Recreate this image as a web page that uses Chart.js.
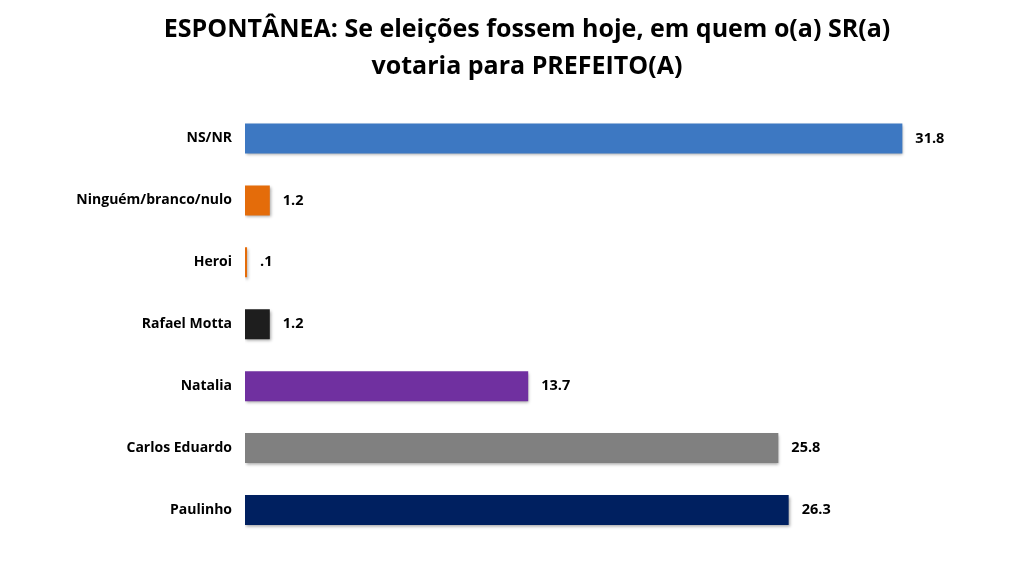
<!DOCTYPE html>
<html><head><meta charset="utf-8">
<script src="https://cdn.jsdelivr.net/npm/chart.js@4/dist/chart.umd.min.js"></script>
<style>html,body{margin:0;padding:0;background:#fff;}#wrap{width:1024px;height:562px;position:relative;}</style>
</head><body><div id="wrap"><canvas id="c"></canvas></div>
<script>
const categories = ["NS/NR","Ninguém/branco/nulo","Heroi","Rafael Motta","Natalia","Carlos Eduardo","Paulinho"];
const values = [31.8, 1.2, 0.1, 1.2, 13.7, 25.8, 26.3];
const barColors = ["#3D78C2","#E46C0A","#E46C0A","#1E1E1E","#7030A0","#808080","#002060"];
const titleLines = ["ESPONTÂNEA: Se eleições fossem hoje, em quem o(a) SR(a)","votaria para PREFEITO(A)"];

const fmt = v => String(v).replace(/^0\./, '.');

const valueLabels = {
  id: 'valueLabels',
  afterDatasetsDraw(chart) {
    const ctx = chart.ctx;
    const meta = chart.getDatasetMeta(0);
    ctx.save();
    ctx.font = 'bold 14.5px "Open Sans", sans-serif';
    ctx.fillStyle = '#000';
    ctx.textBaseline = 'middle';
    ctx.textAlign = 'left';
    meta.data.forEach((bar, i) => {
      ctx.fillText(fmt(values[i]), bar.x + 13, bar.y);
    });
    ctx.restore();
  }
};
const barShadow = {
  id: 'barShadow',
  beforeDatasetsDraw(chart) {
    chart.ctx.save();
    chart.ctx.shadowColor = 'rgba(0,0,0,0.35)';
    chart.ctx.shadowBlur = 3;
    chart.ctx.shadowOffsetY = 2;
    chart.ctx.shadowOffsetX = 1;
  },
  afterDatasetsDraw(chart) { chart.ctx.restore(); }
};

new Chart(document.getElementById('c'), {
  type: 'bar',
  data: {
    labels: categories,
    datasets: [{ data: values, backgroundColor: barColors, borderWidth: 0,
      barPercentage: 0.97, categoryPercentage: 0.5 }]
  },
  options: {
    indexAxis: 'y',
    responsive: true,
    maintainAspectRatio: false,
    animation: false,
    layout: { padding: { left: 40, right: 10, top: 0, bottom: 21 } },
    plugins: {
      legend: { display: false },
      tooltip: { enabled: false },
      title: { display: true, text: titleLines, color: '#000',
        font: { family: '"Open Sans", sans-serif', size: 25, weight: 'bold', lineHeight: 1.45 },
        padding: { top: 12, bottom: 23 } }
    },
    scales: {
      x: { min: 0, max: 37.2, display: false },
      y: { grid: { display: false }, border: { display: false },
        afterFit(scale) { scale.width = 205; },
        ticks: { color: '#000', padding: 5, font: { family: '"Open Sans", sans-serif', size: 14, weight: 'bold' } } }
    }
  },
  plugins: [barShadow, valueLabels]
});
</script></body></html>
